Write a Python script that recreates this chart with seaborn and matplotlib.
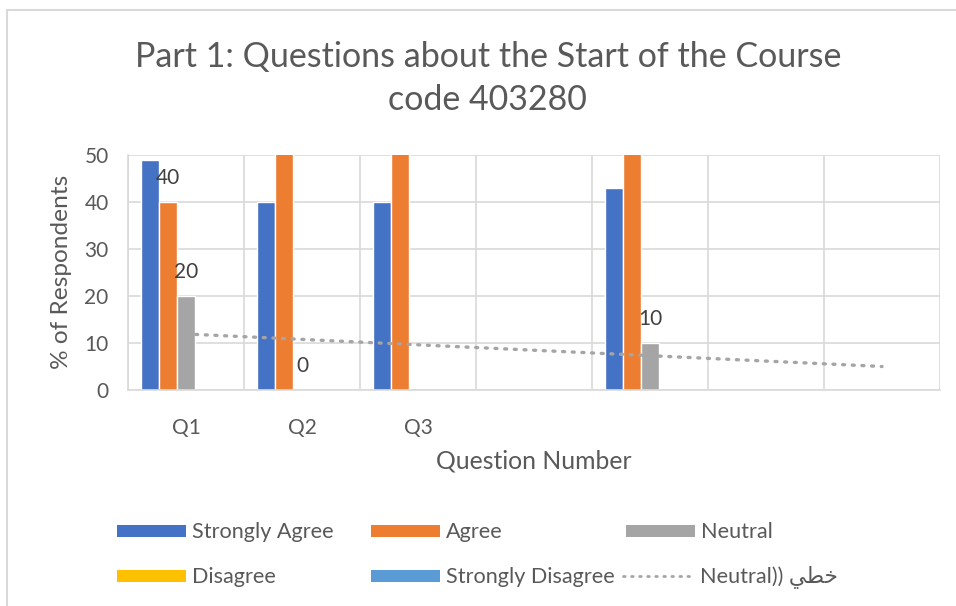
import numpy as np
import pandas as pd
import matplotlib
matplotlib.use("Agg")
import matplotlib.pyplot as plt
import seaborn as sns
from matplotlib.patches import Rectangle
from matplotlib.lines import Line2D
from matplotlib.ticker import FixedLocator

# --- data ---
categories = ["Q1", "Q2", "Q3", "Q4", "Q5", "Q6", "Q7"]
tick_labels = ["Q1", "Q2", "Q3", "", "", "", ""]
series = ["Strongly Agree", "Agree", "Neutral", "Disagree", "Strongly Disagree"]
strongly_agree = [49, 40, 40, np.nan, 43, np.nan, np.nan]
agree = [40, 60, 60, np.nan, 60, np.nan, np.nan]
neutral = [20, 0, np.nan, np.nan, 10, np.nan, np.nan]
disagree = [np.nan] * 7
strongly_disagree = [np.nan] * 7
colors = ["#4472C4", "#ED7D31", "#A5A5A5", "#FFC000", "#5B9BD5"]
trend_label = "Neutral)) \uFEF2\uFEC4\uFEA7"

df = pd.DataFrame({
    "question": categories * 5,
    "series": sum([[s] * 7 for s in series], []),
    "value": strongly_agree + agree + neutral + disagree + strongly_disagree,
}).dropna()

sns.set_style("white")
plt.rcParams["font.family"] = ["Lato", "DejaVu Sans"]
txt = "#595959"

W, H = 956, 606
fig = plt.figure(figsize=(W / 100, H / 100), dpi=100)
ax = fig.add_axes([128 / W, 1 - 390 / H, 812 / W, 235 / H])

sns.barplot(data=df, x="question", y="value", hue="series", order=categories,
            hue_order=series, palette=dict(zip(series, colors)), width=0.78,
            saturation=1, legend=False, ax=ax)

# data labels: Agree at Q1 and every Neutral bar
present = [s for s in series if s in set(df["series"])]
for name, cont in zip(present, ax.containers):
    if name == "Agree":
        labels = ["40"] + [""] * (len(cont) - 1)
    elif name == "Neutral":
        labels = [f"{b.get_height():.0f}" for b in cont]
    else:
        continue
    ax.bar_label(cont, labels=labels, padding=10, fontsize=15, color="#404040")

# linear trendline of Neutral
xn = np.array([i for i, v in enumerate(neutral) if not np.isnan(v)])
yn = np.array([v for v in neutral if not np.isnan(v)])
k, b = np.polyfit(xn, yn, 1)
xt = np.array([0, len(categories) - 1])
dots = (0, (0.6, 2.3))
ax.plot(xt, k * xt + b, color="#A5A5A5", lw=2.4, linestyle=dots,
        dash_capstyle="round", zorder=1)

ax.set_ylim(0, 50)
ax.set_xlim(-0.5, len(categories) - 0.5)
ax.set_yticks(range(0, 51, 10))
ax.set_xticks(range(len(categories)))
ax.set_xticklabels(tick_labels)
ax.xaxis.set_minor_locator(FixedLocator(np.arange(-0.5, len(categories), 1)))
ax.grid(axis="y", color="#D9D9D9", lw=1.2)
ax.grid(axis="x", which="minor", color="#D9D9D9", lw=1.2)
ax.set_axisbelow(True)
ax.tick_params(axis="both", which="both", length=0, labelsize=15, labelcolor=txt)
ax.tick_params(axis="x", pad=20)
ax.tick_params(axis="y", pad=14)
for s in ["top", "right"]:
    ax.spines[s].set_visible(False)
for s in ["left", "bottom"]:
    ax.spines[s].set_color("#D9D9D9")
    ax.spines[s].set_linewidth(1.2)

ax.set_xlabel("")
ax.set_ylabel("")
fig.text(534 / W, 1 - 461 / H, "Question Number", ha="center", va="center",
         fontsize=17.8, color=txt)
fig.text(61 / W, 1 - 272 / H, "% of Respondents", ha="center", va="center",
         rotation=90, fontsize=17.6, color=txt)

fig.text(488 / W, 1 - 57 / H, "Part 1: Questions about the Start of the Course",
         ha="center", va="center", fontsize=24.5, color=txt)
fig.text(487 / W, 1 - 100 / H, "code 403280",
         ha="center", va="center", fontsize=24.5, color=txt)

# legend laid out on Excel's fixed grid
leg_items = [(series[0], colors[0]), (series[1], colors[1]), (series[2], colors[2]),
             (series[3], colors[3]), (series[4], colors[4]), (trend_label, None)]
col_x = [117, 371, 626]
row_y = [531, 576]
for i, (lab, col) in enumerate(leg_items):
    x0 = col_x[i % 3]
    y0 = row_y[i // 3]
    if col is not None:
        fig.add_artist(Rectangle((x0 / W, 1 - (y0 + 6) / H), 69 / W, 12 / H,
                                 transform=fig.transFigure, color=col, lw=0))
        tx = x0 + 75
    else:
        x0 = 623
        fig.add_artist(Line2D([x0 / W, (x0 + 66) / W], [1 - y0 / H] * 2,
                              transform=fig.transFigure, color="#A5A5A5",
                              lw=2, linestyle=dots, dash_capstyle="round"))
        tx = 700
    fig.text(tx / W, 1 - (y0 + 1) / H, lab, ha="left", va="center",
             fontsize=15.6, color=txt)

# chart area border
fig.add_artist(Rectangle((7 / W, -0.05), 1.1, 1 - 10 / H + 0.05,
                         transform=fig.transFigure, fill=False,
                         edgecolor="#D9D9D9", lw=1.5))

fig.savefig("out.png", dpi=100, facecolor="white")
